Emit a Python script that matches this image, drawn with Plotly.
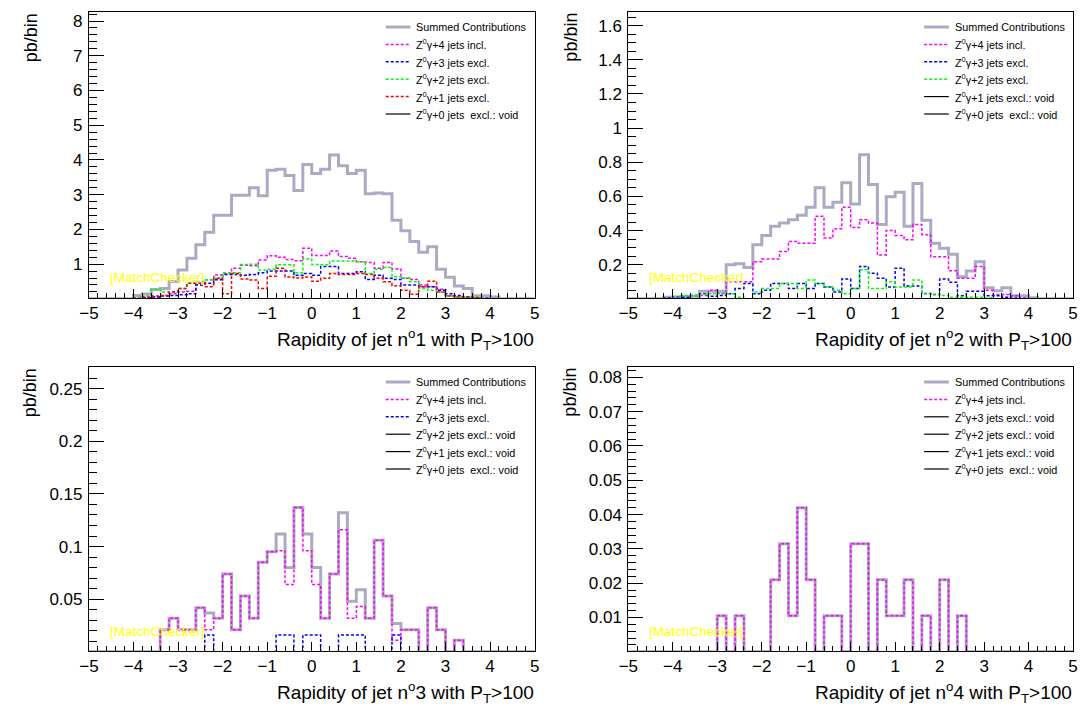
import numpy as np
import plotly.graph_objects as go

# ---------------- data ----------------
bin_edges = np.round(np.linspace(-5, 5, 51), 2)

# Panel 1 : rapidity of jet 1
p1_summed = [0, 0, 0, 0, 0, 0.10, 0.14, 0.27, 0.30, 0.50,
             0.83, 1.17, 1.56, 1.92, 2.41, 2.41, 2.98, 2.98, 3.20, 2.97,
             3.70, 3.73, 3.55, 3.12, 3.87, 3.61, 3.73, 4.14, 3.83, 3.61,
             3.70, 3.03, 3.05, 3.03, 2.26, 1.96, 1.65, 1.34, 1.50, 0.85,
             0.62, 0.37, 0.30, 0.09, 0.09, 0.05, 0, 0, 0, 0]
p1_4j = [0, 0, 0, 0, 0, 0, 0.02, 0.05, 0.10, 0.15,
         0.20, 0.22, 0.40, 0.55, 0.69, 0.72, 0.88, 0.97, 0.95, 1.12,
         1.24, 1.20, 1.13, 1.10, 1.46, 1.25, 1.25, 1.38, 1.22, 1.17,
         1.07, 1.05, 0.88, 1.05, 0.86, 0.59, 0.56, 0.40, 0.35, 0.28,
         0.10, 0.07, 0.05, 0.03, 0.02, 0, 0, 0, 0, 0]
p1_3j = [0, 0, 0, 0, 0, 0.02, 0.03, 0.05, 0.08, 0.10,
         0.12, 0.15, 0.40, 0.45, 0.55, 0.70, 0.70, 0.68, 0.70, 0.75,
         0.80, 0.80, 0.80, 0.68, 0.73, 0.68, 0.93, 0.93, 0.73, 0.73,
         0.78, 0.56, 0.68, 0.59, 0.56, 0.40, 0.40, 0.35, 0.35, 0.25,
         0.15, 0.10, 0.05, 0.03, 0.02, 0, 0, 0, 0, 0]
p1_2j = [0, 0, 0, 0, 0, 0.03, 0.08, 0.27, 0.20, 0.20,
         0.30, 0.45, 0.50, 0.55, 0.60, 0.75, 0.75, 0.99, 1.00, 0.83,
         0.85, 0.98, 0.98, 0.75, 1.15, 0.99, 0.98, 1.09, 1.09, 1.09,
         1.07, 0.73, 0.85, 0.90, 0.64, 0.60, 0.49, 0.30, 0.25, 0.20,
         0.08, 0.05, 0.04, 0.03, 0, 0, 0, 0, 0, 0]
p1_1j = [0, 0, 0, 0, 0, 0.02, 0.05, 0.08, 0.10, 0.20,
         0.30, 0.45, 0.45, 0.35, 0.59, 0.15, 0.73, 0.57, 0.54, 0.30,
         0.65, 0.88, 0.63, 0.60, 0.63, 0.51, 0.59, 0.73, 0.70, 0.70,
         0.73, 0.70, 0.59, 0.49, 0.38, 0.25, 0.13, 0.35, 0.51, 0.20,
         0.08, 0.05, 0.05, 0.04, 0, 0, 0, 0, 0, 0]

# Panel 2 : rapidity of jet 2
p2_summed = [0, 0, 0, 0, 0.010, 0.012, 0.015, 0.015, 0.045, 0.045,
             0.045, 0.200, 0.206, 0.183, 0.317, 0.371, 0.425, 0.444, 0.464, 0.490,
             0.537, 0.650, 0.537, 0.566, 0.680, 0.556, 0.844, 0.670, 0.435, 0.598,
             0.625, 0.425, 0.676, 0.460, 0.326, 0.297, 0.261, 0.130, 0.163, 0.218,
             0.065, 0.047, 0.065, 0.018, 0.018, 0.006, 0, 0, 0, 0]
p2_4j = [0, 0, 0, 0, 0, 0, 0, 0, 0.020, 0.050,
         0.030, 0.100, 0.100, 0.100, 0.218, 0.234, 0.234, 0.277, 0.336, 0.326,
         0.326, 0.484, 0.356, 0.410, 0.537, 0.418, 0.464, 0.444, 0.257, 0.400,
         0.371, 0.346, 0.435, 0.376, 0.247, 0.247, 0.165, 0.120, 0.120, 0.190,
         0.051, 0.025, 0.025, 0.018, 0.006, 0, 0, 0, 0, 0]
p2_3j = [0, 0, 0, 0, 0.005, 0.010, 0.010, 0.020, 0.030, 0.015,
         0.020, 0.030, 0.060, 0.090, 0.030, 0.050, 0.090, 0.090, 0.060, 0.090,
         0.060, 0.090, 0.070, 0.040, 0.116, 0.060, 0.190, 0.150, 0.120, 0.070,
         0.180, 0.076, 0.076, 0.032, 0.026, 0.116, 0.097, 0.018, 0.045, 0.045,
         0.018, 0.018, 0.010, 0.005, 0, 0, 0, 0, 0, 0]
p2_2j = [0, 0, 0, 0, 0, 0.005, 0.020, 0.020, 0.025, 0.030,
         0.035, 0.030, 0.010, 0, 0.040, 0.060, 0.060, 0.090, 0.090, 0.060,
         0.110, 0.090, 0.070, 0.050, 0.030, 0.060, 0.170, 0.060, 0.060, 0.100,
         0.070, 0.070, 0.110, 0.030, 0.025, 0.020, 0.010, 0.010, 0.010, 0.010,
         0.005, 0, 0, 0, 0, 0, 0, 0, 0, 0]

# Panel 3 : rapidity of jet 3
p3_summed = [0, 0, 0, 0, 0, 0, 0, 0, 0.021, 0.032,
             0.021, 0.021, 0.042, 0.037, 0.032, 0.074, 0.021, 0.053, 0.032, 0.085,
             0.095, 0.112, 0.080, 0.137, 0.112, 0.080, 0.032, 0.074, 0.132, 0.048,
             0.059, 0.032, 0.106, 0.053, 0.027, 0.021, 0.021, 0, 0.042, 0.021,
             0, 0.011, 0, 0, 0, 0, 0, 0, 0, 0]
p3_4j = [0, 0, 0, 0, 0, 0, 0, 0, 0.021, 0.032,
         0.021, 0.021, 0.042, 0.021, 0.032, 0.074, 0.021, 0.053, 0.032, 0.085,
         0.095, 0.096, 0.064, 0.137, 0.096, 0.064, 0.032, 0.074, 0.116, 0.032,
         0.043, 0.032, 0.106, 0.053, 0.011, 0.021, 0.021, 0, 0.042, 0.021,
         0, 0.011, 0, 0, 0, 0, 0, 0, 0, 0]
p3_3j = [0, 0, 0, 0, 0, 0, 0, 0, 0, 0,
         0, 0, 0, 0.016, 0, 0, 0, 0, 0, 0,
         0, 0.016, 0.016, 0, 0.016, 0.016, 0, 0, 0.016, 0.016,
         0.016, 0, 0, 0, 0.016, 0, 0, 0, 0, 0,
         0, 0, 0, 0, 0, 0, 0, 0, 0, 0]

# Panel 4 : rapidity of jet 4
p4_summed = [0, 0, 0, 0, 0, 0, 0, 0, 0, 0,
             0.0105, 0, 0.0105, 0, 0, 0, 0.021, 0.0315, 0.0105, 0.042,
             0.021, 0, 0.0105, 0.0105, 0, 0.0315, 0.0315, 0, 0.021, 0.0105,
             0.0105, 0.021, 0, 0.0105, 0, 0.021, 0, 0.0105, 0, 0,
             0, 0, 0, 0, 0, 0, 0, 0, 0, 0]
p4_4j = list(p4_summed)

# ---------------- styling ----------------
W, H = 1083, 713
FONT = "Liberation Sans, Arial, Helvetica, sans-serif"
SUM_COLOR = "#aaaac4"
COLORS = {"4": "#ff00ff", "3": "#0000ff", "2": "#00ff00", "1": "#ff0000"}
DASH = "3px,2px"


def fx(p):
    return p / W


def fy(p):
    return 1 - p / H


panels = [
    dict(name="1", x0=80, x1=532, y0=12, y1=298, ymax=8.26, dt=1, mdt=0.2,
         series=[("Summed Contributions", p1_summed, "sum"),
                 ("Z<sup>0</sup>γ+4 jets incl.", p1_4j, "4"),
                 ("Z<sup>0</sup>γ+3 jets excl.", p1_3j, "3"),
                 ("Z<sup>0</sup>γ+2 jets excl.", p1_2j, "2"),
                 ("Z<sup>0</sup>γ+1 jets excl.", p1_1j, "1"),
                 ("Z<sup>0</sup>γ+0 jets\u00a0 excl.: void", None, "void")]),
    dict(name="2", x0=627, x1=1078, y0=12, y1=298, ymax=1.68, dt=0.2, mdt=0.05,
         series=[("Summed Contributions", p2_summed, "sum"),
                 ("Z<sup>0</sup>γ+4 jets incl.", p2_4j, "4"),
                 ("Z<sup>0</sup>γ+3 jets excl.", p2_3j, "3"),
                 ("Z<sup>0</sup>γ+2 jets excl.", p2_2j, "2"),
                 ("Z<sup>0</sup>γ+1 jets excl.: void", None, "void"),
                 ("Z<sup>0</sup>γ+0 jets\u00a0 excl.: void", None, "void")]),
    dict(name="3", x0=80, x1=532, y0=367, y1=651, ymax=0.2705, dt=0.05, mdt=0.01,
         series=[("Summed Contributions", p3_summed, "sum"),
                 ("Z<sup>0</sup>γ+4 jets incl.", p3_4j, "4"),
                 ("Z<sup>0</sup>γ+3 jets excl.", p3_3j, "3"),
                 ("Z<sup>0</sup>γ+2 jets excl.: void", None, "void"),
                 ("Z<sup>0</sup>γ+1 jets excl.: void", None, "void"),
                 ("Z<sup>0</sup>γ+0 jets\u00a0 excl.: void", None, "void")]),
    dict(name="4", x0=627, x1=1078, y0=367, y1=651, ymax=0.083, dt=0.01, mdt=0.002,
         series=[("Summed Contributions", p4_summed, "sum"),
                 ("Z<sup>0</sup>γ+4 jets incl.", p4_4j, "4"),
                 ("Z<sup>0</sup>γ+3 jets excl.: void", None, "void"),
                 ("Z<sup>0</sup>γ+2 jets excl.: void", None, "void"),
                 ("Z<sup>0</sup>γ+1 jets excl.: void", None, "void"),
                 ("Z<sup>0</sup>γ+0 jets\u00a0 excl.: void", None, "void")]),
]

fig = go.Figure()
layout = dict(
    width=W, height=H, margin=dict(l=0, r=0, t=0, b=0),
    paper_bgcolor="white", plot_bgcolor="white",
    font=dict(family=FONT, color="black"),
    showlegend=False,
    annotations=[], shapes=[],
)

xs = list(bin_edges)

for i, p in enumerate(panels):
    sfx = "" if i == 0 else str(i + 1)
    xa, ya = "x" + sfx, "y" + sfx
    for j, (label, vals, kind) in enumerate(p["series"]):
        if kind == "sum":
            line = dict(color=SUM_COLOR, width=3)
        elif kind == "void":
            line = dict(color="black", width=1.2)
        else:
            line = dict(color=COLORS[kind], width=1.5, dash=DASH)
        if vals is not None:
            ys = list(vals) + [vals[-1]]
            fig.add_trace(go.Scatter(x=xs, y=ys, mode="lines", name=label,
                                     line=dict(line, shape="hv"),
                                     xaxis=xa, yaxis=ya, hoverinfo="skip"))
        # legend entry (ROOT-style TLegend, no frame)
        row_y = p["y0"] + 15 + 17.4 * j
        layout["shapes"].append(dict(
            type="line", xref="paper", yref="paper",
            x0=fx(p["x1"] - 151), x1=fx(p["x1"] - 126),
            y0=fy(row_y), y1=fy(row_y), line=line))
        layout["annotations"].append(dict(
            text=label, xref="paper", yref="paper",
            x=fx(p["x1"] - 121), y=fy(row_y), xanchor="left", yanchor="middle",
            showarrow=False, font=dict(size=10.8, family=FONT), borderpad=0))

    axis_common = dict(showgrid=False, zeroline=False, showline=True, mirror=True,
                       linecolor="black", linewidth=1, ticks="inside",
                       tickcolor="black", tickfont=dict(size=17, family=FONT))
    layout["xaxis" + sfx] = dict(
        axis_common, domain=[fx(p["x0"]), fx(p["x1"])], anchor=ya,
        range=[-5, 5], tickmode="linear", tick0=-5, dtick=1, ticklen=9,
        minor=dict(dtick=0.2, tick0=-5, ticks="inside", ticklen=5, tickcolor="black"),
    )
    layout["yaxis" + sfx] = dict(
        axis_common, domain=[fy(p["y1"]), fy(p["y0"])], anchor=xa,
        range=[p["ymax"] * 0.003, p["ymax"]], tickmode="linear", tick0=0, dtick=p["dt"],
        ticklen=15, ticklabelstandoff=2,
        minor=dict(dtick=p["mdt"], tick0=0, ticks="inside", ticklen=8, tickcolor="black"),
    )
    # axis titles
    layout["annotations"].append(dict(
        text="pb/bin", xref="paper", yref="paper", x=fx(p["x0"] - 59), y=fy(p["y0"]),
        xanchor="center", yanchor="top", textangle=-90, showarrow=False,
        font=dict(size=18, family=FONT), borderpad=0))
    layout["annotations"].append(dict(
        text="Rapidity of jet n<sup>o</sup>%s with P<sub>T</sub>>100" % p["name"],
        xref="paper", yref="paper", x=fx(p["x1"]), y=fy(p["y1"] + 41),
        xanchor="right", yanchor="middle", showarrow=False,
        font=dict(size=19, family=FONT), borderpad=0))
    layout["annotations"].append(dict(
        text="[MatchChecker]", xref="paper", yref="paper", x=fx(p["x0"] + 20),
        y=fy(p["y1"] - 20), xanchor="left", yanchor="middle", showarrow=False,
        font=dict(size=13.5, family=FONT, color="#ffff00"), borderpad=0))

fig.update_layout(**layout)
fig.write_html("out.html")
